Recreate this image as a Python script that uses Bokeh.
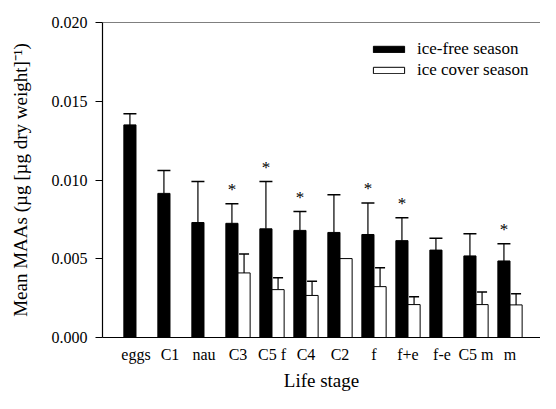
import math
from bokeh.plotting import figure
from bokeh.models import (ColumnDataSource, Whisker, TeeHead, FixedTicker, PrintfTickFormatter,
                          Span, Legend, LegendItem, Range1d)
from bokeh.core.properties import value
from bokeh.embed import file_html
from bokeh.resources import INLINE

NAN = float("nan")

stages = ["eggs", "C1", "nau", "C3", "C5 f", "C4", "C2", "f", "f+e", "f-e", "C5 m", "m"]
ice_free = [0.0135, 0.00915, 0.0073, 0.00725, 0.0069, 0.0068, 0.00667, 0.00654, 0.00615, 0.00555, 0.00518, 0.00486]
ice_free_sd = [0.0007, 0.00145, 0.0026, 0.00125, 0.0030, 0.0012, 0.0024, 0.0020, 0.00145, 0.00075, 0.0014, 0.0011]
ice_cover = [NAN, NAN, NAN, 0.0041, 0.00304, 0.00267, 0.00501, 0.00323, 0.00209, NAN, 0.00209, 0.00207]
ice_cover_sd = [NAN, NAN, NAN, 0.0012, 0.00075, 0.0009, NAN, 0.0012, 0.0005, NAN, 0.0008, 0.0007]
significant = [False, False, False, True, True, True, False, True, True, False, False, True]
y_ticks = [0.0, 0.005, 0.010, 0.015, 0.020]

FONT = "'Liberation Serif', serif"
bw = 0.357
idx = list(range(len(stages)))
xf = [i - bw / 2 for i in idx]
xc = [i + bw / 2 for i in idx]

free_src = ColumnDataSource(dict(
    x=xf, top=ice_free,
    upper=[m + s for m, s in zip(ice_free, ice_free_sd)],
))
cov_x = [x for x, v in zip(xc, ice_cover) if not math.isnan(v)]
cov_v = [v for v in ice_cover if not math.isnan(v)]
cover_src = ColumnDataSource(dict(x=cov_x, top=cov_v))
ce = [(x, v, s) for x, v, s in zip(xc, ice_cover, ice_cover_sd) if not (math.isnan(v) or math.isnan(s))]
cover_err_src = ColumnDataSource(dict(
    x=[c[0] for c in ce], lower=[c[1] for c in ce], upper=[c[1] + c[2] for c in ce]))
sig_src = ColumnDataSource(dict(
    x=[x for x, s in zip(xf, significant) if s],
    y=[m + sd for m, sd, s in zip(ice_free, ice_free_sd, significant) if s],
    t=["*" for s in significant if s],
))

p = figure(width=540, height=393, output_backend="svg", toolbar_location=None,
           x_range=Range1d(-0.985, 11.897), y_range=Range1d(0, 0.020),
           min_border_left=102, min_border_top=22, min_border_right=0, min_border_bottom=55)
p.outline_line_color = None
p.grid.visible = False
p.background_fill_color = "white"
p.border_fill_color = "white"

r_free = p.vbar(x="x", top="top", width=bw, bottom=0, source=free_src,
                fill_color="black", line_color="black", line_width=1)
r_cov = p.vbar(x="x", top="top", width=bw, bottom=0, source=cover_src,
               fill_color="white", line_color="black", line_width=1)

w1 = Whisker(base="x", lower="top", upper="upper", source=free_src, dimension="height",
             line_color="black", line_width=1.2,
             upper_head=TeeHead(size=13, line_color="black", line_width=1.5), lower_head=None)
w2 = Whisker(base="x", lower="lower", upper="upper", source=cover_err_src, dimension="height",
             line_color="black", line_width=1.2,
             upper_head=TeeHead(size=10, line_color="black", line_width=1.5), lower_head=None)
p.add_layout(w1)
p.add_layout(w2)

p.text(x="x", y="y", text="t", source=sig_src, text_font=value(FONT), text_font_size="17px",
       text_align="center", text_baseline="middle", y_offset=-14, text_color="#000000")

p.add_layout(Span(location=0.020, dimension="width", line_color="black", line_width=1.2))

# axes
p.yaxis.ticker = FixedTicker(ticks=y_ticks)
p.yaxis.formatter = PrintfTickFormatter(format="%.3f")
p.yaxis.minor_tick_line_color = None
p.yaxis.major_tick_in = 0
p.yaxis.major_tick_out = 7
p.yaxis.major_label_standoff = 8
p.yaxis.axis_label = "Mean MAAs (µg [µg dry weight]⁻¹)"
p.yaxis.axis_label_standoff = 18

p.xaxis.ticker = FixedTicker(ticks=idx)
p.xaxis.major_label_overrides = {i: s for i, s in enumerate(stages)}
p.xaxis.major_tick_in = 0
p.xaxis.major_tick_out = 0
p.xaxis.minor_tick_line_color = None
p.xaxis.major_label_standoff = 8
p.xaxis.axis_label = "Life stage"
p.xaxis.axis_label_standoff = 4

for ax in (p.xaxis, p.yaxis):
    ax.axis_line_color = "black"
    ax.axis_line_width = 1.2
    ax.major_tick_line_color = "black"
    ax.major_label_text_font = FONT
    ax.major_label_text_font_size = "16px"
    ax.major_label_text_color = "black"
    ax.axis_label_text_font = FONT
    ax.axis_label_text_font_size = "19px"
    ax.axis_label_text_font_style = "normal"
    ax.axis_label_text_color = "black"

legend = Legend(items=[LegendItem(label="ice-free season", renderers=[r_free]),
                       LegendItem(label="ice cover season", renderers=[r_cov])],
                location=(267, 257), orientation="vertical",
                glyph_width=39, glyph_height=8, label_height=20, spacing=1,
                label_standoff=9, padding=0, margin=0,
                label_text_font=FONT, label_text_font_size="17px", label_text_color="black",
                border_line_color=None, background_fill_alpha=0)
p.add_layout(legend)

open("out.html", "w").write(file_html(p, INLINE))
